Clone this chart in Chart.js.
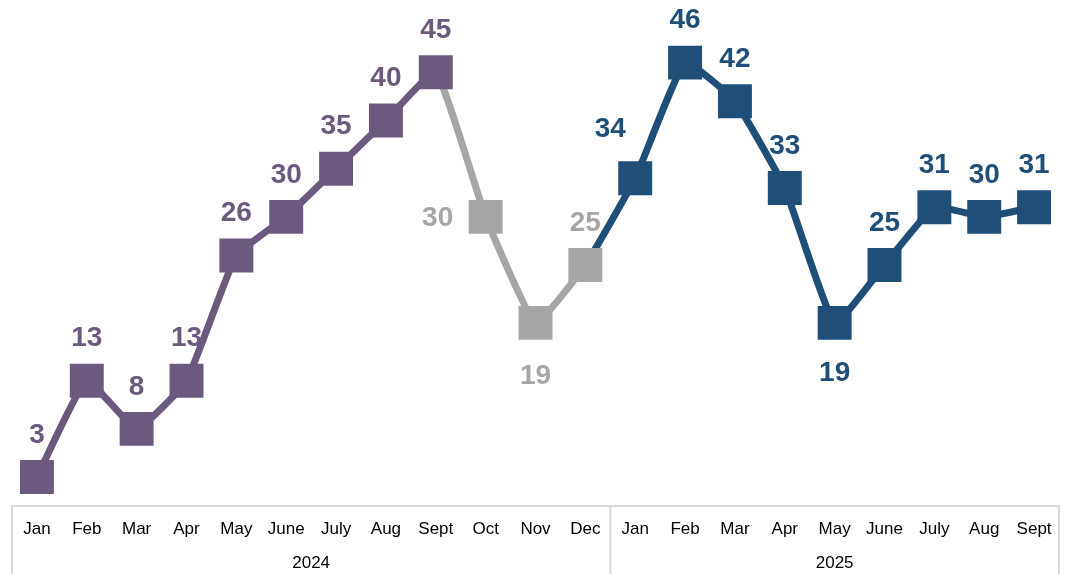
<!DOCTYPE html>
<html>
<head>
<meta charset="utf-8">
<script src="https://cdn.jsdelivr.net/npm/chart.js@4/dist/chart.umd.min.js"></script>
<style>
  html, body { margin: 0; padding: 0; background: #fff; }
  #wrap { width: 1071px; height: 574px; position: relative; }
</style>
</head>
<body>
<div id="wrap"><canvas id="chart"></canvas></div>
<script>
// ================== Data ==================
const months = ['Jan', 'Feb', 'Mar', 'Apr', 'May', 'June', 'July', 'Aug', 'Sept', 'Oct', 'Nov', 'Dec',
                'Jan', 'Feb', 'Mar', 'Apr', 'May', 'June', 'July', 'Aug', 'Sept'];
const values = [3, 13, 8, 13, 26, 30, 35, 40, 45, 30, 19, 25,
                34, 46, 42, 33, 19, 25, 31, 30, 31];
const years = ['2024', '2025'];
const yearCenters = [5.5, 16];   // middle of each year's months (category index)
const yearSplit = 11.5;          // between Dec 2024 and Jan 2025

// ================== Styling ==================
const PURPLE = '#6b5a7d';
const GREY = '#a6a6a6';
const BLUE = '#1f4e79';
const FONT = '"Liberation Sans", Arial, sans-serif';

function colorAt(i) {
    if (i <= 8) return PURPLE;
    if (i <= 11) return GREY;
    return BLUE;
}
const pointColors = values.map((_, i) => colorAt(i));

// where each value label sits relative to its marker
const labelPos = values.map((_, i) => {
    if (i === 9) return 'left';
    if (i === 10 || i === 16) return 'bottom';
    if (i === 12) return 'topleft';
    return 'top';
});

// draws value labels next to the points
const valueLabels = {
    id: 'valueLabels',
    afterDatasetsDraw(chart) {
        const ctx = chart.ctx;
        const meta = chart.getDatasetMeta(0);
        ctx.save();
        ctx.font = 'bold 28px ' + FONT;
        ctx.textAlign = 'center';
        ctx.textBaseline = 'middle';
        meta.data.forEach((pt, i) => {
            let x = pt.x, y = pt.y;
            switch (labelPos[i]) {
                case 'left': x -= 48; break;
                case 'bottom': y += (i === 10 ? 52 : 49); break;
                case 'topleft': x -= 25; y -= 50; break;
                default: y -= 43;
            }
            ctx.fillStyle = pointColors[i];
            ctx.fillText(String(values[i]), x, y + 1);
        });
        ctx.restore();
    }
};

// box round the category axis with the year divider
const axisBox = {
    id: 'axisBox',
    afterDraw(chart) {
        const ctx = chart.ctx;
        const x = chart.scales.x;
        const top = chart.chartArea.bottom;
        const bottom = chart.height;
        const left = chart.chartArea.left;
        const right = chart.chartArea.right;
        const split = x.getPixelForValue(yearSplit);
        ctx.save();
        ctx.strokeStyle = '#d9d9d9';
        ctx.lineWidth = 2;
        ctx.beginPath();
        ctx.moveTo(left, bottom);
        ctx.lineTo(left, top);
        ctx.lineTo(right, top);
        ctx.lineTo(right, bottom);
        ctx.moveTo(split, top);
        ctx.lineTo(split, bottom);
        ctx.stroke();
        ctx.restore();
    }
};

new Chart(document.getElementById('chart'), {
    type: 'line',
    data: {
        labels: months,
        datasets: [{
            data: values,
            borderWidth: 7,
            tension: 0.12,
            borderColor: PURPLE,
            segment: {
                borderColor: c => colorAt(c.p1DataIndex)
            },
            pointStyle: 'rect',
            pointRadius: 24,
            pointHoverRadius: 24,
            pointBorderWidth: 0,
            pointBackgroundColor: pointColors,
            pointBorderColor: pointColors
        }]
    },
    options: {
        responsive: true,
        maintainAspectRatio: false,
        animation: false,
        layout: { autoPadding: false, padding: { left: 12, right: 12, top: 0, bottom: 0 } },
        plugins: { legend: { display: false }, tooltip: { enabled: false } },
        scales: {
            y: {
                display: false,
                min: 0,
                max: 52.5
            },
            x: {
                type: 'category',
                offset: true,
                grid: { display: false, drawTicks: false },
                border: { display: false },
                ticks: {
                    color: '#000',
                    font: { family: FONT, size: 17 },
                    padding: 13,
                    maxRotation: 0,
                    autoSkip: false
                },
                afterFit: s => { s.height = 34; }
            },
            x2: {
                type: 'linear',
                position: 'bottom',
                min: -0.5,
                max: 20.5,
                grid: { display: false, drawTicks: false },
                border: { display: false },
                afterBuildTicks: s => { s.ticks = yearCenters.map(v => ({ value: v })); },
                ticks: {
                    color: '#000',
                    font: { family: FONT, size: 17 },
                    padding: 13,
                    maxRotation: 0,
                    autoSkip: false,
                    callback: v => years[yearCenters.indexOf(v)] || ''
                },
                afterFit: s => { s.height = 34; }
            }
        }
    },
    plugins: [valueLabels, axisBox]
});
</script>
</body>
</html>
